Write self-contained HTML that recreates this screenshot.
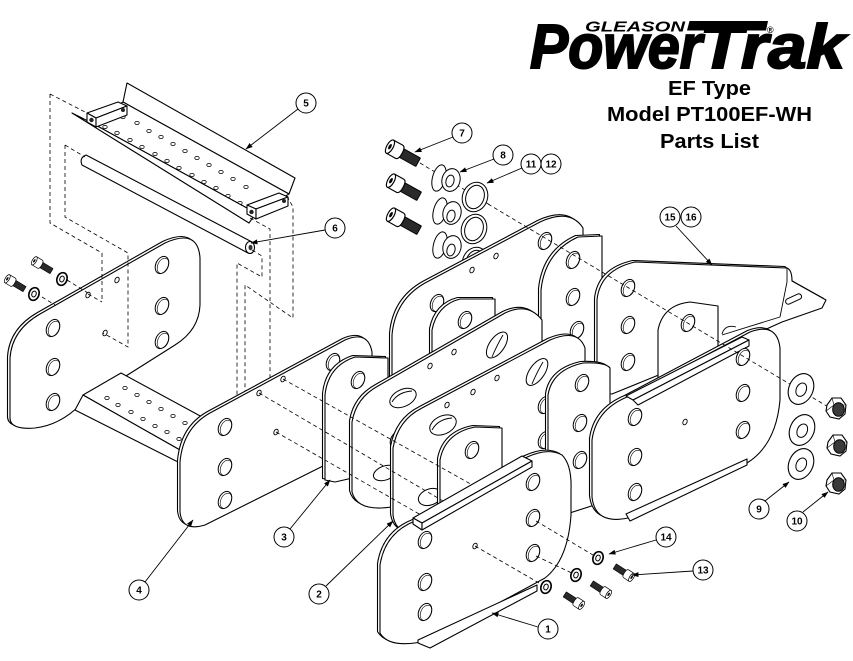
<!DOCTYPE html>
<html><head><meta charset="utf-8"><title>PowerTrak PT100EF-WH</title>
<style>
html,body{margin:0;padding:0;background:#fff;width:853px;height:661px;overflow:hidden}
svg{display:block}
.p{fill:#fff;stroke:#000;stroke-width:1.1;stroke-linejoin:round}
.d{fill:none;stroke:#000;stroke-width:.8;stroke-dasharray:4 3}
.l{fill:none;stroke:#000;stroke-width:.9}
.c{fill:#fff;stroke:#000;stroke-width:1}
.n{font-size:10px;font-weight:bold;text-anchor:middle;font-family:"Liberation Sans",Arial,sans-serif}
</style></head><body>
<svg xmlns="http://www.w3.org/2000/svg" xmlns:xlink="http://www.w3.org/1999/xlink" width="853" height="661" viewBox="0 0 853 661" font-family="'Liberation Sans', Arial, sans-serif">
<defs>
<marker id="ar" markerWidth="7" markerHeight="6" refX="6.5" refY="3" orient="auto" markerUnits="userSpaceOnUse"><path d="M0,0.5 L7,3 L0,5.5 Z" fill="#000"/></marker>
<g id="ho"><ellipse rx="6.2" ry="9" transform="rotate(25)" fill="#fff" stroke="#000" stroke-width="1"/><ellipse cx="1.2" cy="0.3" rx="5.2" ry="8" transform="rotate(25)" fill="none" stroke="#000" stroke-width=".6"/></g>
<g id="sh"><ellipse rx="2" ry="3" transform="rotate(25)" fill="#fff" stroke="#000" stroke-width=".9"/></g>
<g id="dt"><ellipse rx="2.2" ry="1.6" fill="#fff" stroke="#000" stroke-width=".8"/></g>
<g id="sc">
 <rect x="3" y="-4.2" width="19" height="8.4" fill="#2a2a2a"/>
 <path d="M3,-4.2 L22,-4.2 M3,4.2 L22,4.2 M22,-4.2 L22,4.2" stroke="#000" stroke-width=".8"/>
 <path d="M-6,-6.5 L3,-6.5 Q6,-6.5 6,0 Q6,6.5 3,6.5 L-6,6.5 Z" fill="#fff" stroke="#000" stroke-width="1"/>
 <ellipse cx="-6" cy="0" rx="2.8" ry="6.5" fill="#fff" stroke="#000" stroke-width="1"/>
 <ellipse cx="-6" cy="0" rx="1.2" ry="2.6" fill="#000"/>
</g>
<g id="w14"><ellipse rx="5" ry="6.5" transform="rotate(20)" fill="#fff" stroke="#000" stroke-width="1.6"/><ellipse rx="2.2" ry="3" transform="rotate(20)" fill="#fff" stroke="#000" stroke-width="1"/></g>
<g id="nut"><polygon points="-9,-3 -4,-10 5,-10 10,-3 9,6 3,11 -6,9 -10,3" fill="#fff" stroke="#000" stroke-width="1.1"/><path d="M-4,-10 L-2,-3 L-10,3 M-2,-3 L10,-3" fill="none" stroke="#000" stroke-width=".6"/><ellipse cx="2.5" cy="1.5" rx="5.8" ry="6.8" fill="#3a3a3a" stroke="#000"/></g>
<g id="w9"><ellipse rx="12" ry="16" transform="rotate(25)" fill="#fff" stroke="#000" stroke-width="1.1"/><ellipse cx="0.5" cy="0.5" rx="5" ry="7" transform="rotate(25)" fill="#fff" stroke="#000" stroke-width="1"/></g>
</defs>
<rect width="853" height="661" fill="#fff"/>

<!-- ===== Part 5 step ===== -->
<path class="p" d="M127,83 L295,178 L289,194 L123,102 Z"/>
<path class="p" d="M123,102 L289,194 L256,213 L90,122 Z"/>
<g>
<use href="#dt" x="105" y="127"/><use href="#dt" x="117" y="133"/><use href="#dt" x="130" y="140"/><use href="#dt" x="142" y="147"/><use href="#dt" x="155" y="154"/><use href="#dt" x="167" y="161"/><use href="#dt" x="179" y="168"/><use href="#dt" x="192" y="175"/><use href="#dt" x="204" y="182"/><use href="#dt" x="216" y="188"/><use href="#dt" x="228" y="196"/><use href="#dt" x="240" y="203"/>
<use href="#dt" x="123" y="117"/><use href="#dt" x="137" y="123"/><use href="#dt" x="149" y="131"/><use href="#dt" x="161" y="137"/><use href="#dt" x="173" y="144"/><use href="#dt" x="185" y="151"/><use href="#dt" x="197" y="158"/><use href="#dt" x="209" y="165"/><use href="#dt" x="221" y="172"/><use href="#dt" x="233" y="179"/><use href="#dt" x="246" y="187"/>
</g>
<path class="p" d="M72,113 L90,122 L256,213 L249,223 Z"/>
<path class="p" d="M87,113 L118,102 L127,106 L96,118 Z"/>
<path class="p" d="M87,113 L96,118 L96,127 L87,122 Z"/>
<path class="p" d="M96,118 L127,106 L127,115 L96,127 Z"/>
<circle cx="91.5" cy="120" r="2.2" fill="#222"/><circle cx="123" cy="110" r="2" fill="#222"/>
<path class="p" d="M247,205 L279,193 L288,197 L256,209 Z"/>
<path class="p" d="M247,205 L256,209 L256,219 L247,214 Z"/>
<path class="p" d="M256,209 L288,197 L288,206 L256,219 Z"/>
<circle cx="251.5" cy="212" r="2.2" fill="#222"/><circle cx="284" cy="201" r="2" fill="#222"/>

<!-- ===== Rod 6 ===== -->
<path class="p" d="M86,155 L252,242 L248,253 L82,165 Q79,158 86,155 Z"/>
<ellipse class="p" cx="250" cy="247.5" rx="4.5" ry="6"/>
<ellipse cx="250.5" cy="247.5" rx="2" ry="2.8" fill="#333"/>

<!-- ===== Part 4 left plate ===== -->
<path class="p" transform="translate(-2.5,-1.5)" d="M10,418 L10,358 Q12,330 40,314 L165,243 Q198,228 200,258 L200,305 Q199,330 175,345 L80,405 Q60,425 35,428 Q10,430 10,418 Z"/>
<path class="p" d="M10,418 L10,358 Q12,330 40,314 L165,243 Q198,228 200,258 L200,305 Q199,330 175,345 L80,405 Q60,425 35,428 Q10,430 10,418 Z"/>
<use href="#ho" x="162" y="265"/><use href="#ho" x="162" y="306"/><use href="#ho" x="162" y="340"/>
<use href="#ho" x="53" y="328"/><use href="#ho" x="53" y="367"/><use href="#ho" x="53" y="402"/>
<use href="#sh" x="117" y="280"/><use href="#sh" x="88" y="295"/><use href="#sh" x="105" y="333"/>

<!-- ghost dashed lines -->
<path class="d" d="M50,94 L87,113 M50,94 L50,223 L102,253 L102,302 M65,145 L85,157 M65,145 L65,217 L128,253 L128,347 L103,333 M67,280 L88,293 M88,294 L102,302 M42,297 L55,305"/>

<!-- left screws and washers -->
<use href="#sc" transform="translate(38,263) rotate(31) scale(0.72)"/>
<use href="#sc" transform="translate(11,281) rotate(31) scale(0.72)"/>
<use href="#w14" x="62" y="279"/>
<use href="#w14" x="34" y="294"/>

<!-- Step part 4 -->
<path class="p" d="M83,395 L121,373 L215,424 L180,450 Z"/>
<path class="p" d="M83,395 L180,450 L178,462 L75,410 Z"/>
<use href="#dt" x="125" y="388"/><use href="#dt" x="137" y="395"/><use href="#dt" x="149" y="402"/><use href="#dt" x="161" y="409"/><use href="#dt" x="173" y="416"/><use href="#dt" x="185" y="423"/>
<use href="#dt" x="107" y="398"/><use href="#dt" x="118" y="405"/><use href="#dt" x="131" y="412"/><use href="#dt" x="143" y="419"/><use href="#dt" x="155" y="426"/><use href="#dt" x="167" y="432"/><use href="#dt" x="179" y="439"/>

<!-- right ghost dashed -->
<path class="d" d="M287,196 L293,207 L293,318 L245,285 L245,395 M250,218 L270,229 L270,383 M252,250 L262,256 L262,277 L237,263 L237,400"/>

<!-- ===== top hardware ===== -->
<path class="d" d="M420,163 L490,205"/>
<ellipse cx="475" cy="262" rx="12.5" ry="15" transform="rotate(20 475 262)" fill="#fff" stroke="#000"/>
<ellipse cx="475" cy="262" rx="9" ry="12" transform="rotate(20 475 262)" fill="#fff" stroke="#000"/>
<use href="#sc" transform="translate(396,150) rotate(29) scale(1.15)"/>
<use href="#sc" transform="translate(397,184) rotate(29) scale(1.15)"/>
<use href="#sc" transform="translate(397,218) rotate(29) scale(1.15)"/>
<g>
<ellipse cx="439" cy="178" rx="6.5" ry="13.5" transform="rotate(15 439 178)" fill="#fff" stroke="#000"/>
<ellipse cx="451" cy="180" rx="9" ry="11.5" transform="rotate(15 451 180)" fill="#fff" stroke="#000"/>
<ellipse cx="450" cy="181" rx="4" ry="6" transform="rotate(15 450 181)" fill="#fff" stroke="#000"/>
<ellipse cx="440" cy="211" rx="6.5" ry="13.5" transform="rotate(15 440 211)" fill="#fff" stroke="#000"/>
<ellipse cx="452" cy="213" rx="9" ry="11.5" transform="rotate(15 452 213)" fill="#fff" stroke="#000"/>
<ellipse cx="451" cy="216" rx="4" ry="6" transform="rotate(15 451 216)" fill="#fff" stroke="#000"/>
<ellipse cx="440" cy="245" rx="6.5" ry="13.5" transform="rotate(15 440 245)" fill="#fff" stroke="#000"/>
<ellipse cx="452" cy="247" rx="9" ry="11.5" transform="rotate(15 452 247)" fill="#fff" stroke="#000"/>
<ellipse cx="451" cy="250" rx="4" ry="6" transform="rotate(15 451 250)" fill="#fff" stroke="#000"/>
</g>
<ellipse cx="475" cy="197" rx="12.5" ry="15" transform="rotate(20 475 197)" fill="#fff" stroke="#000"/>
<ellipse cx="475" cy="197" rx="9" ry="12" transform="rotate(20 475 197)" fill="#fff" stroke="#000"/>
<ellipse cx="474" cy="229" rx="12.5" ry="15" transform="rotate(20 474 229)" fill="#fff" stroke="#000"/>
<ellipse cx="474" cy="229" rx="9" ry="12" transform="rotate(20 474 229)" fill="#fff" stroke="#000"/>

<!-- ===== Plate A ===== -->
<path class="p" transform="translate(-2.5,-1.5)" d="M392,380 L392,335 Q395,300 425,283 L540,222 Q570,208 583,228 L583,340 L392,440 Z"/>
<path class="p" d="M392,380 L392,335 Q395,300 425,283 L540,222 Q570,208 583,228 L583,340 L392,440 Z"/>
<use href="#ho" x="437" y="303"/><use href="#ho" x="545" y="241"/>
<use href="#sh" x="472" y="270"/><use href="#sh" x="496" y="256"/>
<!-- Plate D -->
<path class="p" transform="translate(-2.5,-1.5)" d="M432,360 L432,330 Q437,305 460,299 L495,299 L495,340 L432,372 Z"/>
<path class="p" d="M432,360 L432,330 Q437,305 460,299 L495,299 L495,340 L432,372 Z"/>
<use href="#ho" x="465" y="320"/>
<!-- Plate B -->
<path class="p" transform="translate(-2.5,-1.5)" d="M541,400 L541,290 Q545,252 578,237 L602,236 L602,400 Z"/>
<path class="p" d="M541,400 L541,290 Q545,252 578,237 L602,236 L602,400 Z"/>
<use href="#ho" x="573" y="260"/><use href="#ho" x="573" y="297"/><use href="#ho" x="577" y="330"/>

<!-- ===== Bracket 15/16 ===== -->
<path class="p" transform="translate(-2.5,-1.5)" d="M597,392 L597,300 Q600,270 635,262 L787,268 Q792,270 792,281 L826,300 L822,308 L782,322 L720,350 L612,394 Z"/>
<path class="p" d="M597,392 L597,300 Q600,270 635,262 L787,268 Q792,270 792,281 L826,300 L822,308 L782,322 L720,350 L612,394 Z"/>
<path class="l" d="M780,317 L722,335 M787,268 L787,282 L780,317"/>
<rect x="785" y="296.5" width="17" height="5.5" rx="2.7" transform="rotate(-25 793 299)" fill="#fff" stroke="#000"/>
<use href="#ho" x="628" y="288"/><use href="#ho" x="628" y="325"/><use href="#ho" x="628" y="362"/>
<path class="p" d="M658,380 L658,330 Q663,305 690,302 L718,306 L718,353 Z"/>
<use href="#ho" x="688" y="323"/>
<path class="l" d="M722,334 Q725,324 736,327"/>

<!-- ===== Part 4 right plate ===== -->
<path class="p" transform="translate(-2.5,-1.5)" d="M180,512 L180,462 Q183,428 210,413 L345,340 Q368,330 372,352 L372,440 L325,465 L205,525 Q182,532 180,512 Z"/>
<path class="p" d="M180,512 L180,462 Q183,428 210,413 L345,340 Q368,330 372,352 L372,440 L325,465 L205,525 Q182,532 180,512 Z"/>
<use href="#ho" x="225" y="427"/><use href="#ho" x="225" y="467"/><use href="#ho" x="225" y="500"/><use href="#ho" x="333" y="362"/>
<use href="#sh" x="283" y="379"/><use href="#sh" x="259" y="393"/><use href="#sh" x="276" y="432"/>

<!-- Plate 3 -->
<path class="p" transform="translate(-2.5,-1.5)" d="M325,480 L325,395 Q328,366 355,357 L388,358 L388,470 L335,482 Z"/>
<path class="p" d="M325,480 L325,395 Q328,366 355,357 L388,358 L388,470 L335,482 Z"/>
<use href="#ho" x="358" y="380"/>

<!-- K1 -->
<path class="p" transform="translate(-2.5,-1.5)" d="M352,492 L352,422 Q356,398 378,386 L505,313 Q528,302 542,320 L542,430 L402,505 Q358,515 352,492 Z"/>
<path class="p" d="M352,492 L352,422 Q356,398 378,386 L505,313 Q528,302 542,320 L542,430 L402,505 Q358,515 352,492 Z"/>
<ellipse cx="497" cy="345" rx="7.5" ry="15" transform="rotate(35 497 345)" fill="#fff" stroke="#000"/>
<path class="l" d="M492,357 Q497,345 503,335"/>
<ellipse cx="403" cy="398" rx="14" ry="8.5" transform="rotate(-25 403 398)" fill="#fff" stroke="#000"/>
<path class="l" d="M392,402 Q398,392 412,391"/>
<use href="#sh" x="454" y="352"/><use href="#sh" x="430" y="366"/>
<use href="#ho" x="397" y="440"/>
<ellipse cx="385" cy="473" rx="12" ry="7" transform="rotate(-20 385 473)" fill="#fff" stroke="#000"/>

<!-- K2 -->
<path class="p" transform="translate(-2.5,-1.5)" d="M393,515 L393,448 Q398,420 422,408 L550,340 Q578,328 585,348 L585,455 L422,532 Q396,537 393,515 Z"/>
<path class="p" d="M393,515 L393,448 Q398,420 422,408 L550,340 Q578,328 585,348 L585,455 L422,532 Q396,537 393,515 Z"/>
<ellipse cx="537" cy="372" rx="7.5" ry="15.5" transform="rotate(35 537 372)" fill="#fff" stroke="#000"/>
<path class="l" d="M532,384 Q537,372 543,362"/>
<ellipse cx="443" cy="425" rx="14" ry="9" transform="rotate(-25 443 425)" fill="#fff" stroke="#000"/>
<path class="l" d="M432,430 Q438,419 452,418"/>
<use href="#sh" x="497" y="378"/><use href="#sh" x="473" y="392"/><use href="#sh" x="447" y="405"/>
<use href="#ho" x="545" y="405"/><use href="#ho" x="545" y="440"/>
<ellipse cx="430" cy="497" rx="12" ry="8" transform="rotate(-20 430 497)" fill="#fff" stroke="#000"/>

<!-- E -->
<path class="p" transform="translate(-2.5,-1.5)" d="M440,512 L440,460 Q445,433 475,427 L502,428 L502,480 Z"/>
<path class="p" d="M440,512 L440,460 Q445,433 475,427 L502,428 L502,480 Z"/>
<use href="#ho" x="472" y="450"/>

<!-- F -->
<path class="p" transform="translate(-2.5,-1.5)" d="M548,520 L548,395 Q552,370 583,363 Q605,362 610,368 L610,500 Z"/>
<path class="p" d="M548,520 L548,395 Q552,370 583,363 Q605,362 610,368 L610,500 Z"/>
<use href="#ho" x="582" y="383"/><use href="#ho" x="580" y="423"/><use href="#ho" x="580" y="460"/>

<!-- lower dashed lines -->
<path class="d" d="M283,379 L535,520 M259,393 L535,555 M276,432 L475,546"/>

<!-- ===== Right front plate ===== -->
<path class="p" transform="translate(-2.5,-1.5)" d="M592,497 L592,440 Q596,410 627,397 L750,332 Q777,322 780,348 L780,400 Q776,445 747,463 L628,518 Q595,525 592,497 Z"/>
<path class="p" d="M592,497 L592,440 Q596,410 627,397 L750,332 Q777,322 780,348 L780,400 Q776,445 747,463 L628,518 Q595,525 592,497 Z"/>
<path class="p" d="M626,396 L742,337 L749,340 L633,400 Z"/>
<path class="p" d="M633,400 L749,340 L749,346 L638,405 Z"/>
<path class="p" d="M626,514 L747,459 L747,465 L630,521 Z"/>
<use href="#ho" x="635" y="417"/><use href="#ho" x="635" y="457"/><use href="#ho" x="635" y="492"/>
<use href="#ho" x="743" y="357"/><use href="#ho" x="743" y="393"/><use href="#ho" x="743" y="430"/>
<use href="#sh" x="685" y="422"/>

<!-- long dashed line -->
<path class="d" d="M488,204 L830,408"/>

<!-- washers 9 and nuts 10 -->
<use href="#w9" x="801" y="389"/><use href="#w9" x="802" y="430"/><use href="#w9" x="801" y="464"/>
<use href="#nut" x="836" y="408"/><use href="#nut" x="837" y="445"/><use href="#nut" x="836" y="483"/>

<!-- ===== Plate 1 (front) ===== -->
<path class="p" transform="translate(-2.5,-1.5)" d="M380,633 L380,565 Q385,533 415,521 L525,458 Q548,447 562,455 Q572,465 571,490 L571,515 Q568,560 545,578 L430,640 Q390,650 380,633 Z"/>
<path class="p" d="M380,633 L380,565 Q385,533 415,521 L525,458 Q548,447 562,455 Q572,465 571,490 L571,515 Q568,560 545,578 L430,640 Q390,650 380,633 Z"/>
<path class="p" d="M413,518 L522,456 L532,461 L422,523 Z"/>
<path class="p" d="M413,518 L422,523 L422,530 L413,524 Z"/>
<path class="p" d="M422,523 L532,461 L532,467 L422,530 Z"/>
<path class="p" d="M418,640 L537,585 L537,591 L430,648 L418,643 Z"/>
<use href="#ho" x="425" y="540"/><use href="#ho" x="425" y="582"/><use href="#ho" x="425" y="612"/>
<use href="#ho" x="533" y="482"/><use href="#ho" x="533" y="518"/><use href="#ho" x="533" y="553"/>
<use href="#sh" x="475" y="546"/>

<path class="d" d="M536,521 L598,558 M536,556 L576,575 M475,546 L546,587"/>
<use href="#w14" x="546" y="587"/><use href="#w14" x="576" y="575"/><use href="#w14" x="598" y="558"/>
<use href="#sc" transform="translate(578,603) rotate(213) scale(0.72)"/>
<use href="#sc" transform="translate(605,592) rotate(213) scale(0.72)"/>
<use href="#sc" transform="translate(628,575) rotate(213) scale(0.72)"/>

<!-- ===== Leaders ===== -->
<g class="l">
<path d="M298,109 L246,149" marker-end="url(#ar)"/>
<path d="M325,230 L251,243" marker-end="url(#ar)"/>
<path d="M453,137 L415,152" marker-end="url(#ar)"/>
<path d="M494,159 L460,172" marker-end="url(#ar)"/>
<path d="M522,168 L487,183" marker-end="url(#ar)"/>
<path d="M676,226 L712,265" marker-end="url(#ar)"/>
<path d="M765,501 L789,482" marker-end="url(#ar)"/>
<path d="M803,512 L828,492" marker-end="url(#ar)"/>
<path d="M656,540 L609,554" marker-end="url(#ar)"/>
<path d="M693,571 L632,575" marker-end="url(#ar)"/>
<path d="M538,627 L492,613" marker-end="url(#ar)"/>
<path d="M326,586 L393,521" marker-end="url(#ar)"/>
<path d="M290,529 L330,480" marker-end="url(#ar)"/>
<path d="M145,582 L193,520" marker-end="url(#ar)"/>
</g>

<!-- ===== Callouts ===== -->
<g>
<circle class="c" cx="306" cy="103" r="10"/><text class="n" x="306" y="106.5">5</text>
<circle class="c" cx="335" cy="228" r="10"/><text class="n" x="335" y="231.5">6</text>
<circle class="c" cx="462" cy="133" r="10"/><text class="n" x="462" y="136.5">7</text>
<circle class="c" cx="503" cy="155" r="10"/><text class="n" x="503" y="158.5">8</text>
<circle class="c" cx="531" cy="164" r="10"/><text class="n" x="531" y="167.5">11</text>
<circle class="c" cx="551" cy="164" r="10"/><text class="n" x="551" y="167.5">12</text>
<circle class="c" cx="670" cy="217" r="10"/><text class="n" x="670" y="220.5">15</text>
<circle class="c" cx="691" cy="217" r="10"/><text class="n" x="691" y="220.5">16</text>
<circle class="c" cx="759" cy="509" r="10"/><text class="n" x="759" y="512.5">9</text>
<circle class="c" cx="797" cy="521" r="10"/><text class="n" x="797" y="524.5">10</text>
<circle class="c" cx="666" cy="537" r="10"/><text class="n" x="666" y="540.5">14</text>
<circle class="c" cx="703" cy="570" r="10"/><text class="n" x="703" y="573.5">13</text>
<circle class="c" cx="548" cy="629" r="10"/><text class="n" x="548" y="632.5">1</text>
<circle class="c" cx="319" cy="594" r="10"/><text class="n" x="319" y="597.5">2</text>
<circle class="c" cx="284" cy="537" r="10"/><text class="n" x="284" y="540.5">3</text>
<circle class="c" cx="139" cy="590" r="10"/><text class="n" x="139" y="593.5">4</text>
</g>

<!-- ===== Logo ===== -->
<text x="530" y="68" font-size="62" font-weight="bold" font-style="italic" fill="#000" stroke="#000" stroke-width="2" textLength="172" lengthAdjust="spacingAndGlyphs">Power</text>
<text x="700" y="68" font-size="62" font-weight="bold" font-style="italic" fill="#000" stroke="#000" stroke-width="2" textLength="145" lengthAdjust="spacingAndGlyphs">Trak</text>
<polygon points="687,30.5 689.5,21 768,21 766,30.5" fill="#000"/>
<text x="585" y="31.5" font-size="15" font-weight="bold" font-style="italic" fill="#000" textLength="100" lengthAdjust="spacingAndGlyphs">GLEASON</text>
<text x="767" y="33" font-size="9" font-weight="bold" fill="#000">®</text>

<!-- ===== Title ===== -->
<text x="709.5" y="95" font-size="20" font-weight="bold" text-anchor="middle" textLength="83" lengthAdjust="spacingAndGlyphs">EF Type</text>
<text x="709.5" y="121" font-size="20" font-weight="bold" text-anchor="middle" textLength="205" lengthAdjust="spacingAndGlyphs">Model PT100EF-WH</text>
<text x="709.5" y="148" font-size="20" font-weight="bold" text-anchor="middle" textLength="99" lengthAdjust="spacingAndGlyphs">Parts List</text>
</svg>
</body></html>
